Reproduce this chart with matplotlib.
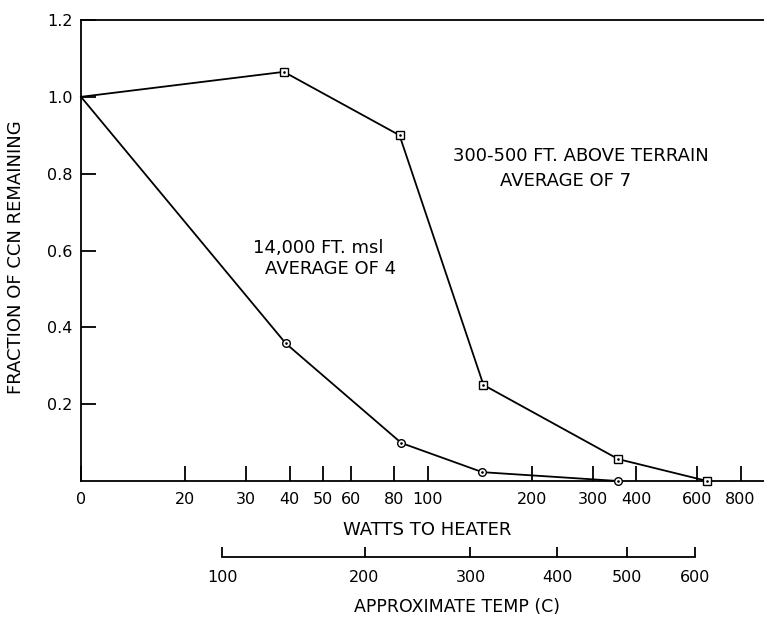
import numpy as np
import matplotlib
matplotlib.use("Agg")
import matplotlib.pyplot as plt
from matplotlib.ticker import FixedLocator, FixedFormatter, NullLocator

# Watts to heater ("0" W is drawn at the position of the "0" tick)
terrain_watts = [0, 38.5, 83, 145, 355, 641]
terrain_frac = [1.0, 1.065, 0.90, 0.25, 0.057, 0.0]

msl_watts = [0, 39, 84, 144, 355]
msl_frac = [1.0, 0.358, 0.099, 0.023, 0.0]

watt_ticks = [10, 20, 30, 40, 50, 60, 80, 100, 200, 300, 400, 600, 800]
watt_labels = ["0", "20", "30", "40", "50", "60", "80", "100",
               "200", "300", "400", "600", "800"]

# approximate heater temperature scale (watts where each temp falls)
temp_labels = ["100", "200", "300", "400", "500", "600"]
temp_watts = [25.6, 65.8, 133, 237, 377, 591]

y_ticks = [0.2, 0.4, 0.6, 0.8, 1.0, 1.2]

ZERO_AT = 10.0
FS = 11.5     # tick labels
FL = 13       # axis labels and notes
LW = 1.3

plt.rcParams['font.family'] = ['DejaVu Sans']

fig = plt.figure(figsize=(7.64, 6.17), dpi=100)
ax = fig.add_axes([0.106, 0.2204, 0.894, 0.7472])


def to_plot(w):
	w = np.asarray(w, dtype=float)
	return np.where(w == 0, ZERO_AT, w)


for xs, ys, mk in [(terrain_watts, terrain_frac, 's'), (msl_watts, msl_frac, 'o')]:
	xp = to_plot(xs)
	ax.plot(xp, ys, color='black', lw=LW, clip_on=False, zorder=3)
	# no marker on the common starting point
	ax.plot(xp[1:], ys[1:], ls='none', marker=mk, ms=5.5, mfc='white',
			mec='black', mew=1.0, clip_on=False, zorder=4)
	ax.plot(xp[1:], ys[1:], ls='none', marker='.', ms=1.8,
			color='black', clip_on=False, zorder=5)

ax.set_xscale('log')
ax.set_xlim(ZERO_AT, 935)
ax.set_ylim(0, 1.2)

ax.xaxis.set_major_locator(FixedLocator(watt_ticks))
ax.xaxis.set_major_formatter(FixedFormatter(watt_labels))
ax.xaxis.set_minor_locator(NullLocator())
ax.set_yticks(y_ticks)
ax.set_yticklabels(["%.1f" % v for v in y_ticks])

ax.tick_params(axis='x', direction='in', length=11, width=LW, pad=8, labelsize=FS)
ax.tick_params(axis='y', direction='in', length=11, width=LW, pad=6, labelsize=FS)
for s in ['left', 'bottom', 'top']:
	ax.spines[s].set_linewidth(LW)
ax.spines['right'].set_visible(False)

ax.set_xlabel("WATTS TO HEATER", fontsize=FL)
ax.xaxis.set_label_coords(0.507, -0.087)
ax.xaxis.label.set_va('top')
ax.set_ylabel("FRACTION OF CCN REMAINING", fontsize=FL)
ax.yaxis.set_label_coords(-0.082, 0.485)

# temperature scale below the watts axis
ax2 = ax.twiny()
ax2.set_xscale('log')
ax2.set_xlim(ax.get_xlim())
ax2.xaxis.set_ticks_position('bottom')
ax2.xaxis.set_label_position('bottom')
ax2.spines['bottom'].set_position(('outward', 55))
ax2.spines['bottom'].set_bounds(temp_watts[0], temp_watts[-1])
ax2.spines['bottom'].set_linewidth(LW)
for s in ['left', 'right', 'top']:
	ax2.spines[s].set_visible(False)
ax2.xaxis.set_major_locator(FixedLocator(temp_watts))
ax2.xaxis.set_major_formatter(FixedFormatter(temp_labels))
ax2.xaxis.set_minor_locator(NullLocator())
ax2.tick_params(axis='x', direction='in', length=7, width=LW, pad=9, labelsize=FS)
ax2.set_xlabel("APPROXIMATE TEMP (C)", fontsize=12.5)
ax2.xaxis.set_label_coords(0.55, -0.254)
ax2.xaxis.label.set_va('top')

ax.text(0.544, 0.706, "300-500 FT. ABOVE TERRAIN", transform=ax.transAxes,
		fontsize=FL, va='center', ha='left')
ax.text(0.613, 0.65, "AVERAGE OF 7", transform=ax.transAxes,
		fontsize=FL, va='center', ha='left')
ax.text(0.252, 0.505, "14,000 FT. msl", transform=ax.transAxes,
		fontsize=FL, va='center', ha='left')
ax.text(0.27, 0.46, "AVERAGE OF 4", transform=ax.transAxes,
		fontsize=FL, va='center', ha='left')

fig.savefig("out.png", dpi=100)
